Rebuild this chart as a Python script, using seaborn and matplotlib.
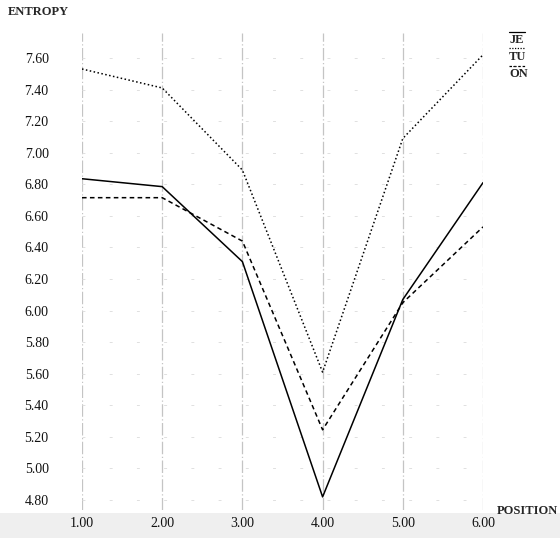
import pandas as pd
import seaborn as sns
import matplotlib.pyplot as plt
from matplotlib.patches import Rectangle
from matplotlib.lines import Line2D

# DATA
positions = [1, 2, 3, 4, 5, 6]
je_values = [6.835, 6.785, 6.31, 4.82, 6.07, 6.81]
tu_values = [7.53, 7.41, 6.89, 5.61, 7.09, 7.62]
on_values = [6.715, 6.715, 6.44, 5.245, 6.05, 6.53]
series_names = ['JE', 'TU', 'ÖN']
y_ticks = [4.80, 5.00, 5.20, 5.40, 5.60, 5.80, 6.00, 6.20, 6.40, 6.60, 6.80, 7.00, 7.20, 7.40, 7.60]

df = pd.DataFrame({
    'position': positions * 3,
    'entropy': je_values + tu_values + on_values,
    'series': [s for s in series_names for _ in positions],
})

sns.set_style('white')
plt.rcParams['font.family'] = ['Liberation Serif', 'DejaVu Serif']

fig = plt.figure(figsize=(5.6, 5.38), dpi=100)
W, H = 560, 538

# grey band behind the x tick labels
fig.patches.append(Rectangle((0, 0), 1, 1 - 513 / H, transform=fig.transFigure,
                             facecolor='#efefef', edgecolor='none', zorder=-5))

ax = fig.add_axes([82 / W, 1 - 510 / H, (483 - 82) / W, (510 - 33) / H])
ax.patch.set_alpha(0)
ax.set_zorder(2)

dash_map = {'JE': '', 'TU': (1, 1.6), 'ÖN': (3, 2.2)}
sns.lineplot(data=df, x='position', y='entropy', style='series', dashes=dash_map,
             color='black', linewidth=1.1, legend=False, ax=ax, zorder=3)

ax.set_xlim(1, 6)
ax.set_ylim(4.737, 7.758)
ax.set_xticks(positions)
ax.set_xticklabels([f'{p:.2f}' for p in positions])
ax.set_yticks(y_ticks)
ax.set_yticklabels([f'{v:.2f}' for v in y_ticks])
ax.tick_params(axis='y', length=0, pad=24, labelsize=10, labelcolor='#111111')
ax.tick_params(axis='x', length=0, pad=5, labelsize=10, labelcolor='#111111')
ax.set_xlabel('')
ax.set_ylabel('')
for sp in ax.spines.values():
    sp.set_visible(False)

# scanned-looking grid
ax.grid(False)
for p in positions:
    ax.axvline(p, color='#c4c4c4', linewidth=0.9, linestyle=(0, (10, 2, 1, 2)), zorder=1)
for v in y_ticks:
    ax.axhline(v, color='#e0e0e0', linewidth=0.7, linestyle=(0, (3, 25)), zorder=1)

fig.text(8 / W, 1 - 12 / H, 'ENTROPY', fontsize=9, fontweight='bold', va='center', ha='left')
fig.text(558 / W, 1 - 511 / H, 'POSITION', fontsize=9, fontweight='bold', va='center', ha='right')

# legend: labels with a line sample drawn over them
legend_styles = ['-', (0, (1, 1.2)), (0, (2, 1.5))]
for i, (name, ls) in enumerate(zip(series_names, legend_styles)):
    yc = 1 - (40 + i * 17) / H
    fig.text(509 / W, yc, name, fontsize=9, fontweight='bold', va='center', ha='left')
    fig.add_artist(Line2D([509 / W, 525 / W], [yc + 8.5 / H, yc + 8.5 / H],
                          transform=fig.transFigure, color='black', linewidth=0.9, linestyle=ls))

fig.savefig('out.png', dpi=100)
